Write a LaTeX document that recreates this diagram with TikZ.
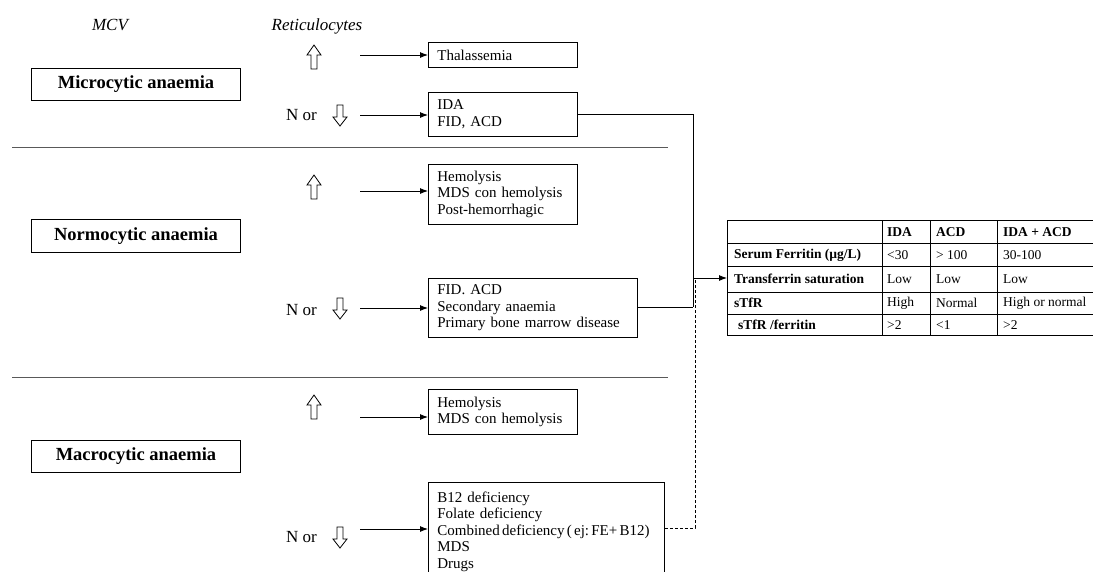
\documentclass[tikz,border=0pt]{standalone}
\usepackage{fontspec}
\setmainfont{Liberation Serif}
\usetikzlibrary{arrows.meta}
\frenchspacing
\begin{document}
\begin{tikzpicture}[x=1pt,y=-1pt,
  box/.style={draw, line width=0.8pt, anchor=north west, align=left, inner xsep=9pt, inner ysep=0pt,
    font=\fontsize{15}{16.5}\selectfont},
  label/.style={draw, line width=1pt, anchor=north west, minimum width=209pt, inner sep=0pt,
    font=\fontsize{18.5}{20}\selectfont\bfseries},
  head/.style={font=\fontsize{17}{19}\selectfont\itshape},
  nor/.style={anchor=east, inner sep=0pt, font=\fontsize{17}{19}\selectfont},
  conn/.style={line width=0.9pt, -{Latex[length=8pt,width=6pt]}},
  link/.style={line width=0.9pt},
  sep/.style={line width=1pt, black!65},
  cell/.style={anchor=west, inner sep=0pt, font=\fontsize{13.5}{14}\selectfont},
  bcell/.style={cell, font=\fontsize{13.5}{14}\selectfont\bfseries},
  uparr/.pic={\draw[line width=0.8pt] (0,0) -- (7,10) -- (3,10) -- (3,24) -- (-3,24) -- (-3,10) -- (-7,10) -- cycle;},
  dnarr/.pic={\draw[line width=0.8pt] (0,21) -- (7,12) -- (3,12) -- (3,0) -- (-3,0) -- (-3,12) -- (-7,12) -- cycle;}
]
\useasboundingbox (0,0) rectangle (1093,571);
\clip (0,0) rectangle (1093,571);

% headings
\node[head] (mcv) at (110,25) {MCV};
\node[head] (ret) at (317,26) {Reticulocytes};

% category boxes
\node[label, minimum height=32pt] (micro) at (31,68) {Microcytic anaemia};
\node[label, minimum height=33pt] (normo) at (31,219) {Normocytic anaemia};
\node[label, minimum height=32pt] (macro) at (31,440) {Macrocytic anaemia};

% separators
\draw[sep] (12,147) -- (668,147);
\draw[sep] (12,377) -- (668,377);

% reticulocyte indicators
\pic at (314,45) {uparr};
\pic at (340,105) {dnarr};
\node[nor] (nor1) at (317,115) {N or};
\pic at (314,175) {uparr};
\pic at (340,298) {dnarr};
\node[nor] (nor2) at (317,310) {N or};
\pic at (314,395) {uparr};
\pic at (340,527) {dnarr};
\node[nor] (nor3) at (317,537) {N or};

% result boxes
\node[box, minimum width=149pt, text width=131pt, minimum height=25pt] (thal) at (428,42) {Thalassemia};
\node[box, minimum width=149pt, text width=131pt, minimum height=44pt] (ida) at (428,92) {IDA\\FID, ACD};
\node[box, minimum width=149pt, text width=131pt, minimum height=60pt] (hem1) at (428,164) {Hemolysis\\MDS con hemolysis\\Post-hemorrhagic};
\node[box, minimum width=209pt, text width=191pt, minimum height=59pt] (fid) at (428,278) {FID. ACD\\Secondary anaemia\\Primary bone marrow disease};
\node[box, minimum width=149pt, text width=131pt, minimum height=45pt] (hem2) at (428,389) {Hemolysis\\MDS con hemolysis};
\node[box, minimum width=236pt, text width=218pt, minimum height=98pt] (b12) at (428,482) {B12 deficiency\\Folate deficiency\\\mbox{\spaceskip=0.15em Combined deficiency ( ej: FE+ B12)}\\MDS\\Drugs};

% arrow starts
\coordinate (s1) at (360,55);
\coordinate (s2) at (360,115);
\coordinate (s3) at (360,191);
\coordinate (s4) at (360,308);
\coordinate (s5) at (360,417);
\coordinate (s6) at (360,529);
\draw[conn] (s1) -- (s1 -| thal.west);
\draw[conn] (s2) -- (s2 -| ida.west);
\draw[conn] (s3) -- (s3 -| hem1.west);
\draw[conn] (s4) -- (s4 -| fid.west);
\draw[conn] (s5) -- (s5 -| hem2.west);
\draw[conn] (s6) -- (s6 -| b12.west);

% table
\node[draw=none, anchor=north west, minimum width=380pt, minimum height=114pt, inner sep=0pt] (tbl) at (727,220) {};
\begin{scope}[line width=1pt]
\draw (727,220) rectangle (1110,335);
\foreach \yy in {243,266,292,314} \draw (727,\yy) -- (1110,\yy);
\foreach \xx in {882,930,997} \draw (\xx,220) -- (\xx,335);
\end{scope}
\node[bcell] (h1) at (887,232) {IDA};
\node[bcell] (h2) at (936,232) {ACD};
\node[bcell] (h3) at (1003,232) {IDA + ACD};
\node[bcell] (r1) at (734,255) {Serum Ferritin (µg/L)};
\node[bcell] (r2) at (734,279) {Transferrin saturation};
\node[bcell] (r3) at (734,303) {sTfR};
\node[bcell] (r4) at (738,325) {sTfR /ferritin};
\node[cell] (c11) at (887,255) {<30};
\node[cell] (c12) at (936,255) {> 100};
\node[cell] (c13) at (1003,255) {30-100};
\node[cell] (c21) at (887,279) {Low};
\node[cell] (c22) at (936,279) {Low};
\node[cell] (c23) at (1003,279) {Low};
\node[cell] (c31) at (887,303) {High};
\node[cell] (c32) at (936,303) {Normal};
\node[cell] (c33) at (1003,303) {High or normal};
\node[cell] (c41) at (887,325) {>2};
\node[cell] (c42) at (936,325) {<1};
\node[cell] (c43) at (1003,325) {>2};

% connectors to table
\coordinate (jn) at (693,307);
\coordinate (ja) at (694,278);
\coordinate (jd) at (695,528);
\draw[link] (ida.east) -| (jn);
\draw[link] (fid.east |- jn) -- (jn);
\draw[conn] (ja) -- (ja -| tbl.west);
\draw[link, dashed, dash pattern=on 3pt off 2pt] (b12.east |- jd) -- (jd) -- (jd |- ja);
\end{tikzpicture}
\end{document}
